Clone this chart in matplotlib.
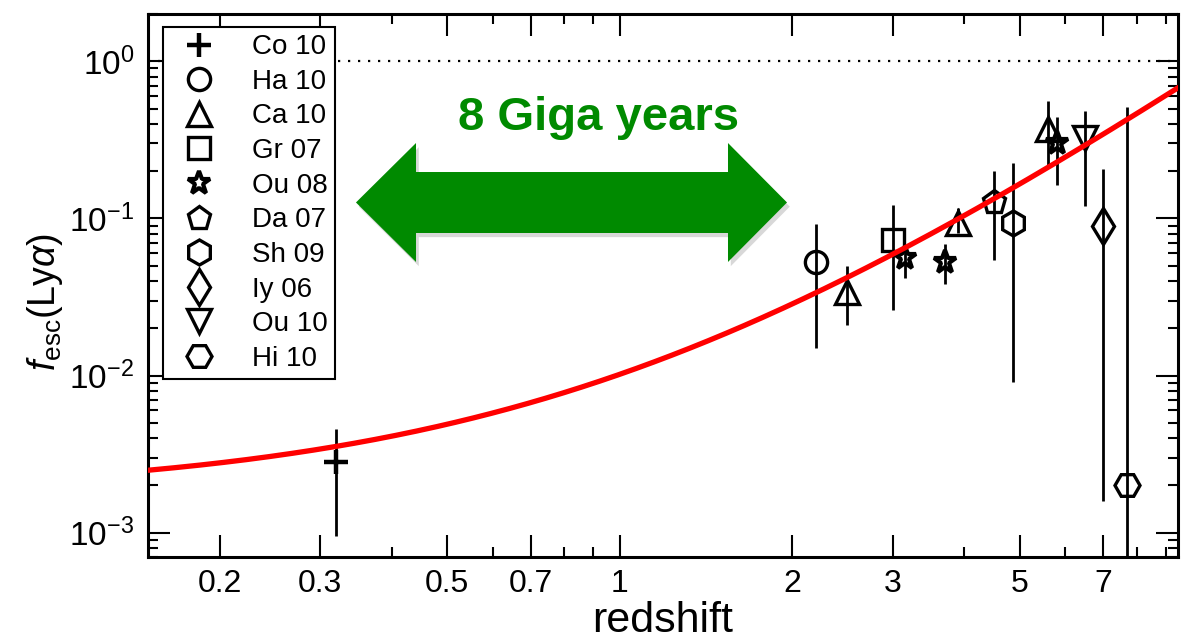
import numpy as np
import matplotlib
matplotlib.use("Agg")
import matplotlib.pyplot as plt
import matplotlib.patheffects as pe
from matplotlib.patches import Polygon
from matplotlib.ticker import FixedLocator, FixedFormatter, NullFormatter, LogLocator

plt.rcParams['font.family'] = ['Liberation Sans', 'DejaVu Sans']
plt.rcParams['mathtext.fontset'] = 'custom'
plt.rcParams['mathtext.rm'] = 'Liberation Sans'
plt.rcParams['mathtext.it'] = 'Liberation Sans:italic'
plt.rcParams['mathtext.bf'] = 'Liberation Sans:bold'
plt.rcParams['mathtext.default'] = 'regular'

# ---- Lyman-alpha escape fraction measurements: value, lower and upper bound ----
labels = ['Co 10', 'Ha 10', 'Ca 10', 'Gr 07', 'Ou 08', 'Da 07', 'Sh 09', 'Iy 06', 'Ou 10', 'Hi 10']

z_co10 = [0.32];            f_co10 = [2.8e-3];  lo_co10 = [9.5e-4];  hi_co10 = [4.6e-3]
z_ha10 = [2.2];             f_ha10 = [0.053];   lo_ha10 = [0.015];   hi_ha10 = [0.092]
z_ca10 = [2.5, 3.9, 5.6];   f_ca10 = [0.034, 0.094, 0.37]
lo_ca10 = [0.021, 0.081, 0.22];  hi_ca10 = [0.050, 0.117, 0.56]
z_gr07 = [3.0];             f_gr07 = [0.073];   lo_gr07 = [0.026];   hi_gr07 = [0.122]
z_ou08 = [3.15, 3.7, 5.8];  f_ou08 = [0.056, 0.053, 0.30]
lo_ou08 = [0.042, 0.0385, 0.163];  hi_ou08 = [0.062, 0.069, 0.44]
z_da07 = [4.5];             f_da07 = [0.128];   lo_da07 = [0.054];   hi_da07 = [0.20]
z_sh09 = [4.86];            f_sh09 = [0.094];   lo_sh09 = [0.0091];  hi_sh09 = [0.226]
z_iy06 = [7.0];             f_iy06 = [0.090];   lo_iy06 = [0.0016];  hi_iy06 = [0.206]
z_ou10 = [6.5];             f_ou10 = [0.326];   lo_ou10 = [0.12];    hi_ou10 = [0.48]
z_hi10 = [7.7];             f_hi10 = [0.002];   lo_hi10 = [1e-4];    hi_hi10 = [0.51]

# power-law fit f_esc = C (1+z)^xi
FIT_C = 1.75e-3
FIT_XI = 2.54

x_ticks = [0.2, 0.3, 0.5, 0.7, 1, 2, 3, 5, 7]
x_ticklabels = ['0.2', '0.3', '0.5', '0.7', '1', '2', '3', '5', '7']
x_minor = [0.4, 0.6, 0.8, 0.9, 4, 6, 8, 9]

arrow_text = '8 Giga years'

# label, z, value, lower, upper, marker, size, edge width
datasets = [
    (labels[0], z_co10, f_co10, lo_co10, hi_co10, '+', 17, 3.2),
    (labels[1], z_ha10, f_ha10, lo_ha10, hi_ha10, 'o', 16, 2.4),
    (labels[2], z_ca10, f_ca10, lo_ca10, hi_ca10, '^', 17, 2.4),
    (labels[3], z_gr07, f_gr07, lo_gr07, hi_gr07, 's', 16, 2.4),
    (labels[4], z_ou08, f_ou08, lo_ou08, hi_ou08, '*', 17, 3.0),
    (labels[5], z_da07, f_da07, lo_da07, hi_da07, 'p', 17, 2.4),
    (labels[6], z_sh09, f_sh09, lo_sh09, hi_sh09, 'h', 18, 2.4),
    (labels[7], z_iy06, f_iy06, lo_iy06, hi_iy06, 'd', 18, 2.4),
    (labels[8], z_ou10, f_ou10, lo_ou10, hi_ou10, 'v', 17, 2.4),
    (labels[9], z_hi10, f_hi10, lo_hi10, hi_hi10, 'H', 18, 2.4),
]

fig = plt.figure(figsize=(11.84, 6.43), dpi=100)
ax = fig.add_axes([148 / 1184, 1 - 557 / 643, 1030 / 1184, 543 / 643])
ax.set_xscale('log')
ax.set_yscale('log')
ax.set_xlim(0.15, 9.45)
ax.set_ylim(7e-4, 2.0)

# unity escape fraction
ax.axhline(1.0, color='k', ls=(0, (1, 3.5)), lw=1.6, zorder=2)

handles = []
for name, z, f, lo, hi, mk, ms, mew in datasets:
    z = np.asarray(z); f = np.asarray(f)
    lo = np.asarray(lo); hi = np.asarray(hi)
    ax.errorbar(z, f, yerr=[f - lo, hi - f], fmt='none', ecolor='k',
                elinewidth=2.0, capsize=0, zorder=3)
    h, = ax.plot(z, f, ls='none', marker=mk, ms=ms, mfc='none', mec='k',
                 mew=mew, label=name, zorder=4)
    handles.append(h)

zz = np.logspace(np.log10(0.15), np.log10(9.45), 400)
ax.plot(zz, FIT_C * (1 + zz) ** FIT_XI, color='#ff0000', lw=3.8, zorder=5)

# double-headed arrow spanning the cosmic time interval
arrow_pts = [(0.2019, 0.6529), (0.2602, 0.7624), (0.2602, 0.7090), (0.5631, 0.7090),
             (0.5631, 0.7624), (0.6204, 0.6529), (0.5631, 0.5433), (0.5631, 0.5967),
             (0.2602, 0.5967), (0.2602, 0.5433)]
arrow = Polygon(arrow_pts, closed=True, transform=ax.transAxes, facecolor='#008a00',
                edgecolor='none', zorder=6,
                path_effects=[pe.SimplePatchShadow(offset=(2, -3), shadow_rgbFace='0.5', alpha=0.3),
                              pe.Normal()])
ax.add_patch(arrow)
ax.text(0.4374, 0.7864, arrow_text, transform=ax.transAxes, ha='center', va='baseline',
        fontsize=34, fontweight='bold', color='#008a00', zorder=6)

ax.xaxis.set_major_locator(FixedLocator(x_ticks))
ax.xaxis.set_major_formatter(FixedFormatter(x_ticklabels))
ax.xaxis.set_minor_locator(FixedLocator(x_minor))
ax.xaxis.set_minor_formatter(NullFormatter())
ax.yaxis.set_major_locator(LogLocator(base=10, numticks=12))
ax.yaxis.set_minor_locator(LogLocator(base=10, subs=np.arange(2, 10), numticks=12))
ax.yaxis.set_minor_formatter(NullFormatter())

ax.tick_params(which='both', direction='in', top=True, right=True, width=1.5)
ax.tick_params(which='major', length=16)
ax.tick_params(which='minor', length=7.5)
ax.tick_params(axis='x', labelsize=23, pad=9)
ax.tick_params(axis='y', labelsize=24, pad=10)
for sp in ax.spines.values():
    sp.set_linewidth(2.2)

ax.set_xlabel('redshift', fontsize=31, labelpad=1)
ax.set_ylabel(r'$\mathit{f}_{\mathrm{esc}}$(Ly$\mathit{\alpha}$)', fontsize=27)
ax.yaxis.set_label_coords(-0.0806, 0.4705)

leg = ax.legend(handles=handles, loc='upper left', bbox_to_anchor=(0.0143, 0.9755),
                borderaxespad=0, fontsize=20, numpoints=1, frameon=True, fancybox=False,
                edgecolor='k', framealpha=1, borderpad=0.25, labelspacing=0.31,
                handlelength=2.12, handletextpad=0.85)
leg.get_frame().set_linewidth(1.5)
leg.set_zorder(10)

fig.savefig('out.png', dpi=100)
